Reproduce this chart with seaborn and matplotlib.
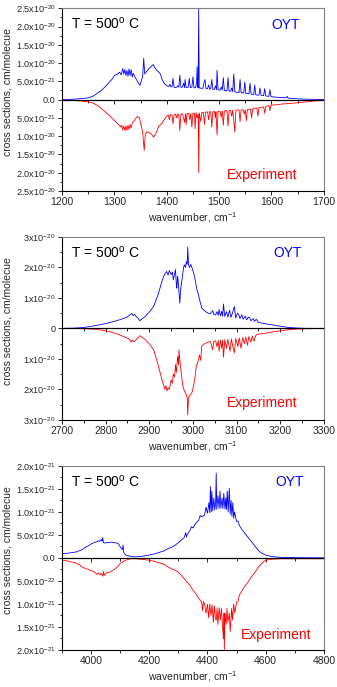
import matplotlib
matplotlib.use('Agg')
import matplotlib.pyplot as plt
import seaborn as sns
from matplotlib.ticker import MultipleLocator, FixedLocator

# ---- panel 1 (1200-1700 cm-1), values in 1e-20 ----
p1_oyt_x = [1200, 1220, 1240, 1250, 1260, 1266, 1275, 1285, 1295, 1301, 1306, 1310, 1313, 1316, 1318,
            1320, 1322, 1324, 1326, 1328, 1330, 1332, 1334, 1336, 1340, 1343, 1346, 1349, 1352, 1354,
            1356, 1358, 1362, 1366, 1370, 1374, 1377, 1381, 1385, 1388, 1391, 1395,
            1400, 1404, 1406, 1408, 1410, 1412, 1414, 1418, 1421, 1423, 1425, 1427, 1430, 1432, 1434,
            1435, 1437, 1441, 1443, 1445, 1448, 1450, 1452, 1455, 1457, 1458, 1459, 1460, 1461, 1462,
            1466, 1469, 1471, 1473, 1475, 1478, 1480, 1482, 1484, 1486, 1488, 1491, 1493, 1495, 1496,
            1498, 1502, 1504, 1506, 1508, 1510, 1515, 1517, 1519, 1522, 1524, 1526, 1528, 1530, 1538,
            1540, 1542, 1547, 1549, 1551, 1557, 1559, 1561, 1566, 1568, 1570, 1576, 1578, 1580, 1585,
            1587, 1589, 1595, 1597, 1599, 1615, 1628, 1630, 1632, 1650, 1670, 1700]
p1_oyt_y = [0.0, 0.01, 0.03, 0.05, 0.1, 0.16, 0.25, 0.39, 0.55, 0.67, 0.7, 0.75, 0.68, 0.85, 0.7,
            0.82, 0.66, 0.8, 0.64, 0.84, 0.66, 0.82, 0.62, 0.72, 0.6, 0.53, 0.45, 0.39, 0.55, 0.62,
            1.13, 0.7, 0.78, 0.85, 0.9, 0.96, 0.88, 0.8, 0.75, 0.7, 0.55, 0.45,
            0.38, 0.36, 0.42, 0.35, 0.35, 0.58, 0.34, 0.33, 0.38, 0.34, 0.67, 0.34, 0.34, 0.45, 0.33,
            0.55, 0.33, 0.34, 0.58, 0.33, 0.34, 0.62, 0.32, 0.33, 0.45, 0.9, 0.36, 0.32, 2.5, 0.32,
            0.31, 0.31, 0.45, 0.55, 0.3, 0.3, 0.4, 0.29, 0.29, 0.55, 0.28, 0.28, 0.38, 0.27, 0.8,
            0.27, 0.26, 0.35, 0.26, 0.6, 0.25, 0.24, 0.6, 0.23, 0.23, 0.32, 0.22, 0.7, 0.21, 0.19,
            0.55, 0.19, 0.18, 0.48, 0.17, 0.16, 0.45, 0.15, 0.14, 0.4, 0.13, 0.12, 0.32, 0.12, 0.11,
            0.3, 0.1, 0.09, 0.27, 0.08, 0.06, 0.05, 0.09, 0.04, 0.02, 0.01, 0.0]
p1_exp_x = [1200, 1230, 1250, 1260, 1270, 1280, 1290, 1300, 1308, 1312, 1314, 1316, 1318, 1320, 1322,
            1324, 1326, 1328, 1330, 1332, 1334, 1337, 1340, 1344, 1348, 1351, 1354, 1357, 1359, 1362,
            1366, 1370, 1375, 1380, 1385, 1390, 1395,
            1400, 1403, 1405, 1407, 1410, 1412, 1414, 1417, 1419, 1421, 1423, 1425, 1427, 1430, 1432,
            1434, 1436, 1437, 1439, 1442, 1444, 1446, 1448, 1450, 1453, 1454, 1456, 1458, 1460, 1461,
            1462, 1465, 1467, 1470, 1472, 1474, 1478, 1480, 1482, 1484, 1486, 1488, 1491, 1493, 1494,
            1496, 1498, 1502, 1504, 1506, 1508, 1510, 1515, 1517, 1519, 1522, 1524, 1526, 1530, 1532,
            1538, 1540, 1542, 1546, 1548, 1550, 1552, 1554, 1560, 1562, 1564, 1572, 1574, 1576, 1585,
            1587, 1589, 1595, 1597, 1599, 1610, 1620, 1640, 1660, 1680, 1700]
p1_exp_y = [0.01, 0.03, 0.06, 0.1, 0.18, 0.3, 0.43, 0.57, 0.68, 0.75, 0.7, 0.83, 0.72, 0.85, 0.72,
            0.84, 0.7, 0.82, 0.68, 0.78, 0.64, 0.6, 0.52, 0.46, 0.5, 0.7, 0.9, 1.39, 0.95, 0.88,
            0.9, 0.93, 1.03, 0.9, 0.72, 0.66, 0.55,
            0.45, 0.42, 0.55, 0.41, 0.42, 0.66, 0.41, 0.4, 0.5, 0.4, 0.4, 0.84, 0.4, 0.39, 0.5,
            0.62, 0.39, 0.68, 0.38, 0.38, 0.55, 0.38, 0.75, 0.37, 0.37, 0.8, 0.36, 0.5, 0.4, 2.0,
            0.36, 0.6, 0.35, 0.35, 0.68, 0.34, 0.34, 0.55, 0.33, 0.33, 0.75, 0.33, 0.33, 0.5, 0.33,
            0.96, 0.32, 0.32, 0.48, 0.31, 0.7, 0.31, 0.3, 0.72, 0.3, 0.3, 0.45, 0.29, 0.88, 0.29,
            0.28, 0.6, 0.28, 0.28, 0.4, 0.28, 0.58, 0.27, 0.26, 0.5, 0.25, 0.23, 0.45, 0.22, 0.2,
            0.37, 0.19, 0.16, 0.3, 0.15, 0.14, 0.12, 0.1, 0.07, 0.04, 0.02]
p1_yticks = [2.5, 2.0, 1.5, 1.0, 0.5, 0.0]
p1_ylabels = ['2.5x10$^{-20}$', '2.0x10$^{-20}$', '1.5x10$^{-20}$', '1.0x10$^{-20}$',
              '5.0x10$^{-21}$', '0.0']

# ---- panel 2 (2700-3300 cm-1), values in 1e-20 ----
p2_oyt_x = [2700, 2730, 2750, 2780, 2800, 2820, 2840, 2850, 2856, 2860, 2863, 2866, 2870, 2875, 2878,
            2882, 2890, 2900, 2910, 2920, 2930, 2936, 2940, 2943, 2946, 2950, 2953, 2955, 2958, 2960,
            2962, 2963, 2965, 2966, 2968, 2970, 2972, 2975, 2978, 2980, 2983, 2985, 2987, 2988, 2990,
            2992, 2995, 2998, 3002, 3005, 3008, 3010, 3012, 3015, 3018, 3020, 3025, 3030, 3035, 3040,
            3045, 3048, 3052, 3055, 3058, 3060, 3063, 3066, 3068, 3070, 3073, 3077, 3080, 3084, 3087,
            3091, 3095, 3098, 3102, 3105, 3108, 3112, 3115, 3120, 3123, 3127, 3130, 3133, 3138, 3141,
            3145, 3150, 3160, 3170, 3180, 3200, 3220, 3240, 3260, 3300]
p2_oyt_y = [0.0, 0.01, 0.03, 0.1, 0.16, 0.23, 0.32, 0.38, 0.45, 0.49, 0.42, 0.46, 0.39, 0.32, 0.25,
            0.3, 0.38, 0.54, 0.72, 1.1, 1.6, 1.8, 1.87, 1.75, 1.9, 1.76, 1.85, 1.6, 1.78, 1.93,
            1.45, 1.32, 1.7, 1.6, 1.2, 0.83, 1.3, 1.6, 1.95, 2.09, 2.0, 2.2, 2.1, 2.67, 2.1,
            2.0, 2.1, 1.98, 1.8, 1.6, 1.35, 1.22, 1.15, 0.95, 0.8, 0.67, 0.6, 0.54, 0.5, 0.48,
            0.58, 0.45, 0.44, 0.55, 0.43, 0.62, 0.41, 0.56, 0.4, 0.8, 0.39, 0.55, 0.37, 0.6, 0.36,
            0.52, 0.72, 0.34, 0.5, 0.45, 0.32, 0.45, 0.3, 0.4, 0.28, 0.37, 0.35, 0.25, 0.32, 0.23,
            0.3, 0.2, 0.17, 0.14, 0.12, 0.07, 0.03, 0.01, 0.0, 0.0]
p2_exp_x = [2700, 2750, 2780, 2800, 2820, 2840, 2850, 2855, 2858, 2861, 2864, 2868, 2872, 2878, 2884,
            2890, 2900, 2910, 2920, 2930, 2936, 2938, 2940, 2943, 2946, 2950, 2953, 2955, 2958, 2960,
            2962, 2965, 2967, 2968, 2970, 2972, 2975, 2978, 2982, 2985, 2987, 2988, 2990, 2993, 2998,
            3002, 3005, 3008, 3010, 3013, 3015, 3018, 3020, 3025, 3030, 3035, 3040, 3045, 3048, 3052,
            3055, 3058, 3060, 3063, 3066, 3068, 3070, 3073, 3077, 3080, 3085, 3088, 3092, 3095, 3098,
            3103, 3106, 3110, 3114, 3118, 3121, 3125, 3128, 3133, 3136, 3140, 3144, 3150, 3165, 3180,
            3200, 3220, 3240, 3300]
p2_exp_y = [0.0, 0.01, 0.03, 0.08, 0.15, 0.26, 0.32, 0.37, 0.45, 0.38, 0.44, 0.4, 0.34, 0.24, 0.3,
            0.36, 0.51, 0.7, 1.19, 1.74, 2.0, 1.88, 2.05, 1.95, 2.0, 1.69, 1.8, 1.5, 1.6, 1.19,
            1.45, 0.92, 1.2, 0.7, 1.05, 1.3, 1.7, 1.96, 2.1, 2.18, 2.3, 2.84, 2.25, 2.2, 2.1,
            1.85, 1.58, 1.2, 1.19, 1.0, 0.87, 1.05, 0.59, 0.52, 0.48, 0.45, 0.43, 0.7, 0.42, 0.41,
            0.6, 0.4, 0.75, 0.39, 0.65, 0.38, 0.95, 0.37, 0.65, 0.36, 0.75, 0.35, 0.62, 0.8, 0.33,
            0.6, 0.31, 0.65, 0.3, 0.5, 0.28, 0.55, 0.27, 0.45, 0.25, 0.42, 0.23, 0.19, 0.16, 0.12,
            0.08, 0.04, 0.02, 0.0]
p2_yticks = [3, 2, 1, 0]
p2_ylabels = ['3x10$^{-20}$', '2x10$^{-20}$', '1x10$^{-20}$', '0']

# ---- panel 3 (3900-4800 cm-1), values in 1e-21 ----
p3_oyt_x = [3900, 3920, 3950, 3970, 3980, 3990, 4000, 4010, 4020, 4025, 4030, 4035, 4038, 4040, 4042,
            4045, 4050, 4060, 4070, 4080, 4090, 4095, 4100, 4105, 4108, 4110, 4112, 4115, 4120, 4130,
            4140, 4150, 4170, 4200, 4220, 4250, 4265, 4280, 4290, 4300, 4310, 4320, 4325, 4328, 4330,
            4340, 4345, 4350, 4360, 4370, 4375, 4380, 4390, 4395, 4400, 4405, 4408, 4410, 4413, 4415,
            4418, 4422, 4425, 4428, 4430, 4432, 4436, 4440, 4443, 4446, 4450, 4453, 4456, 4460, 4463,
            4465, 4468, 4471, 4475, 4478, 4481, 4484, 4487, 4490, 4493, 4500, 4505, 4510, 4520, 4530,
            4540, 4550, 4560, 4570, 4580, 4590, 4600, 4620, 4650, 4700, 4800]
p3_oyt_y = [0.095, 0.1, 0.13, 0.18, 0.23, 0.26, 0.3, 0.33, 0.35, 0.37, 0.36, 0.4, 0.36, 0.44, 0.34,
            0.32, 0.33, 0.33, 0.34, 0.33, 0.32, 0.3, 0.24, 0.2, 0.18, 0.28, 0.12, 0.09, 0.06, 0.04,
            0.03, 0.02, 0.03, 0.06, 0.09, 0.15, 0.2, 0.24, 0.28, 0.33, 0.39, 0.44, 0.55, 0.45, 0.5,
            0.6, 0.68, 0.65, 0.75, 0.82, 0.92, 0.89, 0.93, 1.1, 0.97, 1.2, 0.98, 1.55, 1.0, 1.45,
            1.02, 1.3, 1.04, 1.2, 1.84, 1.05, 1.35, 1.07, 1.45, 1.08, 1.3, 1.07, 1.4, 1.06, 1.3,
            1.05, 1.45, 1.0, 1.51, 0.95, 1.25, 0.9, 1.2, 0.86, 1.0, 0.79, 0.8, 0.7, 0.6, 0.52,
            0.44, 0.36, 0.28, 0.2, 0.13, 0.09, 0.06, 0.03, 0.01, 0.005, 0.0]
p3_exp_x = [3900, 3920, 3940, 3950, 3960, 3970, 3980, 3990, 4000, 4010, 4020, 4025, 4030, 4035, 4040,
            4042, 4045, 4050, 4060, 4070, 4080, 4090, 4100, 4110, 4120, 4135, 4150, 4170, 4200, 4220,
            4240, 4250, 4265, 4280, 4290, 4300, 4310, 4320, 4330, 4340, 4350, 4360, 4370, 4380, 4383,
            4386, 4390, 4395, 4400, 4404, 4408, 4412, 4416, 4420, 4424, 4427, 4430, 4433, 4436, 4440,
            4444, 4448, 4452, 4455, 4457, 4458, 4460, 4464, 4467, 4470, 4475, 4478, 4480, 4483, 4486,
            4490, 4494, 4500, 4505, 4510, 4520, 4530, 4540, 4550, 4560, 4570, 4580, 4590, 4600, 4620,
            4650, 4700, 4750, 4800]
p3_exp_y = [0.05, 0.07, 0.1, 0.12, 0.15, 0.2, 0.23, 0.25, 0.28, 0.3, 0.36, 0.33, 0.37, 0.34, 0.4,
            0.3, 0.38, 0.33, 0.32, 0.29, 0.25, 0.2, 0.12, 0.08, 0.05, 0.02, 0.02, 0.03, 0.05, 0.08,
            0.12, 0.14, 0.2, 0.25, 0.27, 0.31, 0.38, 0.45, 0.53, 0.6, 0.7, 0.78, 0.88, 0.96, 1.15,
            0.95, 1.0, 1.2, 1.01, 1.3, 1.0, 1.25, 1.02, 1.4, 1.05, 1.3, 1.36, 1.1, 1.45, 1.08,
            1.35, 1.1, 1.5, 1.76, 1.2, 2.0, 1.2, 1.45, 1.1, 1.4, 1.2, 1.6, 1.43, 1.1, 1.35,
            1.0, 1.2, 0.96, 0.95, 0.8, 0.7, 0.6, 0.52, 0.42, 0.34, 0.25, 0.16, 0.1, 0.05, 0.03,
            0.02, 0.02, 0.02, 0.02]
p3_yticks = [2.0, 1.5, 1.0, 0.5, 0.0]
p3_ylabels = ['2.0x10$^{-21}$', '1.5x10$^{-21}$', '1.0x10$^{-21}$', '5.0x10$^{-22}$', '0.0']

sns.set_style('ticks')
plt.rcParams['font.family'] = ['Liberation Sans', 'DejaVu Sans']
plt.rcParams['mathtext.default'] = 'regular'

fig = plt.figure(figsize=(3.37, 6.87), dpi=100)


def panel(box, ox, oy, ex, ey, xlim, xmaj, xmin, yticks, ylabels, ymin_step, oyt_pos, exp_pos):
    ax = fig.add_axes(box)
    sns.lineplot(x=ox, y=oy, ax=ax, color='#0000ff', lw=0.6, estimator=None, sort=False)
    sns.lineplot(x=ex, y=[-v for v in ey], ax=ax, color='#ff0000', lw=0.6, estimator=None, sort=False)
    ax.axhline(0, color='black', lw=0.8, zorder=3)
    top = yticks[0]
    ax.set_xlim(*xlim)
    ax.set_ylim(-top, top)
    ax.xaxis.set_major_locator(MultipleLocator(xmaj))
    ax.xaxis.set_minor_locator(MultipleLocator(xmin))
    pos = yticks + [-t for t in yticks[:-1][::-1]]
    labs = ylabels + ylabels[:-1][::-1]
    ax.yaxis.set_major_locator(FixedLocator(pos))
    ax.set_yticklabels(labs)
    ax.yaxis.set_minor_locator(MultipleLocator(ymin_step))
    ax.tick_params(which='both', direction='out', top=False, right=False, width=0.7, pad=1.5)
    ax.tick_params(which='major', length=3)
    ax.tick_params(which='minor', length=1.8)
    ax.tick_params(axis='x', labelsize=7.5)
    ax.tick_params(axis='y', labelsize=6.6)
    for s in ['top', 'right']:
        ax.spines[s].set_color('#808080')
        ax.spines[s].set_linewidth(0.8)
    for s in ['left', 'bottom']:
        ax.spines[s].set_color('black')
        ax.spines[s].set_linewidth(0.8)
    # ticks along the zero line
    sec = ax.secondary_xaxis(0.5)
    sec.set_alignment('bottom')
    sec.xaxis.set_major_locator(MultipleLocator(xmaj))
    sec.xaxis.set_minor_locator(MultipleLocator(xmin))
    sec.tick_params(which='both', direction='out', labelbottom=False, labeltop=False, width=0.7)
    sec.tick_params(which='major', length=3)
    sec.tick_params(which='minor', length=1.8)
    sec.spines['bottom'].set_color('black')
    sec.spines['bottom'].set_linewidth(0.8)

    ax.set_xlabel('wavenumber, cm$^{-1}$', fontsize=7.5, labelpad=2)
    ax.set_ylabel('cross sections, cm/molecue', fontsize=7.5)
    ax.yaxis.set_label_coords(-0.19, 0.54)
    ax.text(0.035, 0.915, 'T = 500$^{o}$ C', transform=ax.transAxes, fontsize=10,
            va='center', ha='left', color='black')
    ax.text(oyt_pos[0], oyt_pos[1], 'OYT', transform=ax.transAxes, fontsize=10,
            va='center', ha='right', color='#0000ff')
    ax.text(exp_pos[0], exp_pos[1], 'Experiment', transform=ax.transAxes, fontsize=10,
            va='center', ha='right', color='#ff0000')
    return ax


panel([0.184, 0.722, 0.777, 0.266], p1_oyt_x, p1_oyt_y, p1_exp_x, p1_exp_y, (1200, 1700), 100, 50,
      p1_yticks, p1_ylabels, 0.25, (0.91, 0.91), (0.897, 0.087))
panel([0.184, 0.389, 0.777, 0.266], p2_oyt_x, p2_oyt_y, p2_exp_x, p2_exp_y, (2700, 3300), 100, 50,
      p2_yticks, p2_ylabels, 0.5, (0.915, 0.91), (0.90, 0.093))
panel([0.184, 0.054, 0.777, 0.268], p3_oyt_x, p3_oyt_y, p3_exp_x, p3_exp_y, (3900, 4800), 200, 100,
      p3_yticks, p3_ylabels, 0.25, (0.924, 0.91), (0.954, 0.08))

fig.savefig('out.png', dpi=100)
